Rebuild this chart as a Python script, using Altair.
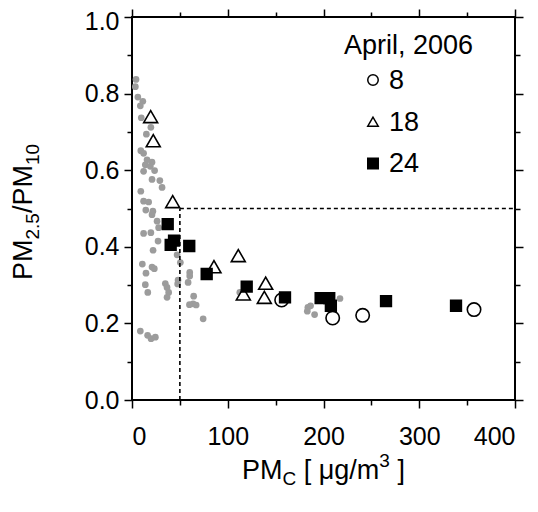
import altair as alt
import pandas as pd

# ---------------- data ----------------
# background samples (gray dots)
bg_pmc = [4.2, 3.5, 6.1, 11.3, 8.7, 9.7, 19.7, 15.0, 9.2, 12.1, 15.7, 20.9, 13.9, 19.1,
          12.1, 23.6, 20.9, 29.1, 31.4, 9.2, 12.1, 17.4, 14.4, 21.8, 20.9, 26.2, 27.8,
          12.1, 19.7, 27.2, 22.0, 47.1, 50.5, 10.8, 20.9, 23.3, 14.6, 60.3, 60.3, 58.6,
          48.1, 34.8, 36.6, 47.7, 13.9, 16.5, 38.3, 36.6, 64.4, 63.8, 60.0, 67.0, 74.3,
          112.6, 183.7, 186.5, 183.1, 190.7, 217.2, 8.7, 16.3, 19.9, 24.4]
bg_ratio = [0.837, 0.818, 0.791, 0.780, 0.768, 0.737, 0.712, 0.694, 0.651, 0.644, 0.627,
            0.621, 0.614, 0.610, 0.597, 0.599, 0.576, 0.573, 0.555, 0.545, 0.519, 0.517,
            0.496, 0.493, 0.484, 0.467, 0.450, 0.435, 0.437, 0.415, 0.391, 0.379, 0.359,
            0.355, 0.347, 0.343, 0.331, 0.333, 0.324, 0.307, 0.313, 0.304, 0.294, 0.303,
            0.301, 0.281, 0.281, 0.268, 0.271, 0.251, 0.249, 0.248, 0.212, 0.281, 0.242,
            0.246, 0.232, 0.223, 0.265, 0.180, 0.169, 0.160, 0.164]

legend_title = "April, 2006"
days = ["8", "18", "24"]
day8_pmc = [156.3, 209.6, 240.9, 357.2]
day8_ratio = [0.261, 0.214, 0.221, 0.236]
day18_pmc = [19.5, 22.2, 42.5, 85.6, 111.0, 116.3, 139.6, 138.2]
day18_ratio = [0.740, 0.677, 0.518, 0.348, 0.377, 0.277, 0.305, 0.268]
day24_pmc = [37.3, 40.4, 43.9, 59.8, 78.0, 119.8, 159.8, 197.0, 206.0, 207.7, 265.3, 338.4]
day24_ratio = [0.459, 0.405, 0.416, 0.402, 0.329, 0.296, 0.268, 0.266, 0.266, 0.246, 0.258, 0.246]

thr_pmc = 50
thr_ratio = 0.5
x_ticks = [0, 100, 200, 300, 400]
x_minor = [50, 150, 250, 350]
y_ticks = [0.0, 0.2, 0.4, 0.6, 0.8]
y_top_tick = [1.0]
y_minor = [0.1, 0.3, 0.5, 0.7, 0.9]
x_dom = [0, 400]
y_dom = [0, 1]

# ---------------- tables ----------------
bg = pd.DataFrame({"pmc": bg_pmc, "ratio": bg_ratio})
series = [
    pd.DataFrame({"pmc": day8_pmc, "ratio": day8_ratio}),
    pd.DataFrame({"pmc": day18_pmc, "ratio": day18_ratio}),
    pd.DataFrame({"pmc": day24_pmc, "ratio": day24_ratio}),
]
hline = pd.DataFrame({"x": [thr_pmc], "x2": [x_dom[1]], "y": [thr_ratio]})
vline = pd.DataFrame({"x": [thr_pmc], "y": [y_dom[0]], "y2": [thr_ratio]})

# ---------------- style ----------------
FONT = "Liberation Sans"
FS = 25        # tick labels
LFS = 27       # legend
TFS = 27       # axis titles
SUB = 19       # sub/superscripts
W, H = 383, 383
TOP = 9
shapes = ["circle", "triangle-up", "square"]
fills = ["white", "white", "black"]
sizes = [180, 195, 115]

xs = alt.Scale(domain=x_dom, nice=False, zero=False)
ys = alt.Scale(domain=y_dom, nice=False, zero=False)


def axis(orient, values, size, labels, fmt=None, pad=5, loff=0):
    kw = dict(orient=orient, values=values, tickSize=size, labels=labels, title=None,
              grid=False, domain=False, ticks=True, tickColor="black", tickWidth=1.5,
              labelFont=FONT, labelFontSize=FS, labelColor="black", labelPadding=pad)
    if fmt:
        kw["format"] = fmt
    if loff:
        kw["labelOffset"] = loff
    return alt.Axis(**kw)


bg_layer = alt.Chart(bg).mark_circle(color="#9c9c9c", opacity=1, size=45).encode(
    x=alt.X("pmc:Q", scale=xs, axis=axis("bottom", x_ticks, 8, True, pad=16)),
    y=alt.Y("ratio:Q", scale=ys, axis=axis("left", y_ticks, 8, True, ".1f", pad=5)),
)

h_layer = alt.Chart(hline).mark_rule(color="black", strokeWidth=1.6, strokeDash=[4, 3]).encode(
    x=alt.X("x:Q", scale=xs, axis=axis("bottom", x_minor, 5, False)),
    x2="x2:Q",
    y=alt.Y("y:Q", scale=ys, axis=axis("left", y_minor, 5, False)),
)

v_layer = alt.Chart(vline).mark_rule(color="black", strokeWidth=1.6, strokeDash=[4, 3]).encode(
    x=alt.X("x:Q", scale=xs, axis=axis("top", x_minor, 5, False)),
    y=alt.Y("y:Q", scale=ys, axis=axis("right", y_minor, 5, False)),
    y2="y2:Q",
)

pt_layers = []
for i, df in enumerate(series):
    if i == 0:
        enc = dict(x=alt.X("pmc:Q", scale=xs, axis=axis("top", x_ticks, 8, False)),
                   y=alt.Y("ratio:Q", scale=ys, axis=axis("right", y_ticks + y_top_tick, 8, False)))
    elif i == 1:
        # top label of the left axis, nudged slightly inward so it stays on the page
        enc = dict(x=alt.X("pmc:Q", scale=xs, axis=None),
                   y=alt.Y("ratio:Q", scale=ys,
                           axis=axis("left", y_top_tick, 8, True, ".1f", pad=5, loff=4)))
    else:
        enc = dict(x=alt.X("pmc:Q", scale=xs, axis=None),
                   y=alt.Y("ratio:Q", scale=ys, axis=None))
    pt_layers.append(
        alt.Chart(df).mark_point(shape=shapes[i], filled=True, fill=fills[i], stroke="black",
                                 strokeWidth=1.6, opacity=1, size=sizes[i]).encode(**enc))

dummy = pd.DataFrame({"a": [0]})

# ---------------- legend (guide text + symbols) ----------------
OFF = 8 + TOP
leg_x, leg_y = 212, 54 - OFF      # title left / baseline (px in plot area)
row0, row_gap = 80 - OFF, 41.7    # symbol row centres
sym_x, lab_x = 241, 257
legend_parts = [alt.Chart(dummy).mark_text(text=legend_title, font=FONT, fontSize=LFS, align="left",
                                           baseline="alphabetic", color="black").encode(
    x=alt.value(leg_x), y=alt.value(leg_y))]
for i, d in enumerate(days):
    ry = row0 + i * row_gap
    legend_parts.append(alt.Chart(dummy).mark_point(shape=shapes[i], filled=True, fill=fills[i],
                                                    stroke="black", strokeWidth=1.5, opacity=1,
                                                    size=110).encode(
        x=alt.value(sym_x), y=alt.value(ry)))
    legend_parts.append(alt.Chart(dummy).mark_text(text=d, font=FONT, fontSize=LFS, align="left",
                                                   baseline="middle", color="black").encode(
        x=alt.value(lab_x), y=alt.value(ry + 1)))

# ---------------- composed axis titles (sub/superscripts) ----------------
ADV = {"P": .667, "M": .833, "C": .722, " ": .278, "[": .278, "]": .278, "μ": .576,
       "g": .556, "/": .278, "m": .833, ".": .278, "0": .556, "1": .556, "2": .556,
       "3": .556, "5": .556}


def tw(s, fs):
    return sum(ADV.get(c, .556) for c in s) * fs


texts = []
# x title: PM_C [ μg/m^3 ]
xsegs = [("PM", TFS, 0, 0), ("C", SUB, 6, 0), ("[ μg/m", TFS, 0, tw(" ", TFS)),
         ("3", SUB, -12, 0), ("]", TFS, 0, tw(" ", TFS))]
total = sum(tw(s, f) + gap for s, f, _, gap in xsegs)
cx = W / 2 - total / 2
base_y = 479 - OFF
for s, f, dy, gap in xsegs:
    cx += gap
    texts.append(alt.Chart(dummy).mark_text(text=s, font=FONT, fontSize=f, align="left",
                                            baseline="alphabetic", color="black").encode(
        x=alt.value(cx), y=alt.value(base_y + dy)))
    cx += tw(s, f)

# y title: PM_2.5/PM_10  (rotated)
ysegs = [("PM", TFS, 0), ("2.5", SUB, 7), ("/PM", TFS, 0), ("10", SUB, 7)]
total = sum(tw(s, f) for s, f, _ in ysegs)
cy = (212 - OFF) + total / 2
base_x = -100
for s, f, dx in ysegs:
    texts.append(alt.Chart(dummy).mark_text(text=s, font=FONT, fontSize=f, align="left",
                                            baseline="alphabetic", angle=270, color="black").encode(
        x=alt.value(base_x + dx), y=alt.value(cy)))
    cy -= tw(s, f)

chart = alt.layer(bg_layer, h_layer, v_layer, *pt_layers, *legend_parts, *texts).resolve_axis(
    x="independent", y="independent"
).properties(
    width=W, height=H,
    autosize=alt.AutoSizeParams(type="none"),
    padding={"left": 124, "top": TOP, "right": 15, "bottom": 105},
).configure_view(stroke="black", strokeWidth=2)

chart.save("out.html", embed_options={"renderer": "svg", "actions": False})
